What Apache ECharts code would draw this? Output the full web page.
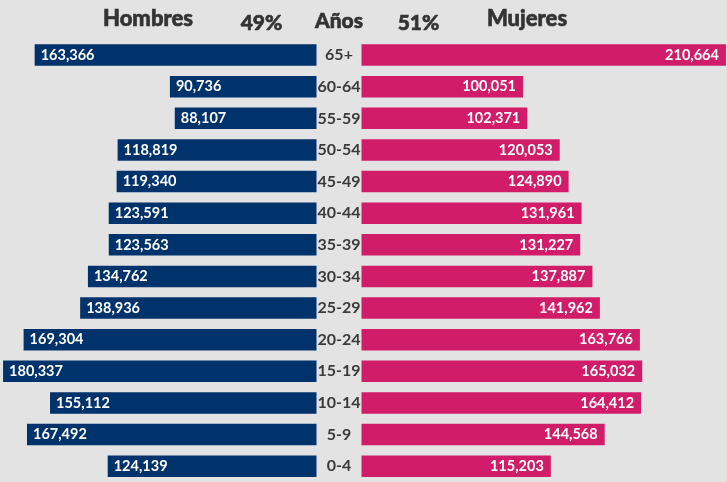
<!DOCTYPE html>
<html>
<head>
<meta charset="utf-8">
<script src="https://cdn.jsdelivr.net/npm/echarts@6/dist/echarts.min.js"></script>
<style>
html,body{margin:0;padding:0;background:#e3e3e3;}
#chart{width:727px;height:482px;}
</style>
</head>
<body>
<div id="chart"></div>
<script>
const categories = ['65+','60-64','55-59','50-54','45-49','40-44','35-39','30-34','25-29','20-24','15-19','10-14','5-9','0-4'];
const hombres = [163366,90736,88107,118819,119340,123591,123563,134762,138936,169304,180337,155112,167492,124139];
const mujeres = [210664,100051,102371,120053,124890,131961,131227,137887,141962,163766,165032,164412,144568,115203];
const headers = { men: 'Hombres', women: 'Mujeres', age: 'Años' };

const sum = a => a.reduce((s, v) => s + v, 0);
const total = sum(hombres) + sum(mujeres);
const pctMen = Math.round(sum(hombres) / total * 100) + '%';
const pctWomen = Math.round(sum(mujeres) / total * 100) + '%';

const NAVY = '#00336b';
const PINK = '#d11c6a';
const FONT = 'Lato';
const fmt = v => v.toLocaleString('en-US');

function head(text, x, y, size) {
  return {type: 'text', x: x, y: y, style: {text: text, x: 0, y: 0, align: 'center', verticalAlign: 'middle',
    font: '900 ' + size + 'px Lato', fill: '#333333', stroke: '#333333', lineWidth: 0.6}};
}

const chart = echarts.init(document.getElementById('chart'), null, {renderer: 'canvas'});
const gridTop = 39.3, gridH = 444.8;
chart.setOption({
  backgroundColor: '#e3e3e3',
  animation: false,
  grid: [
    {left: 0, width: 316.5, top: gridTop, height: gridH},
    {left: 361.5, width: 371, top: gridTop, height: gridH}
  ],
  xAxis: [
    {type: 'value', gridIndex: 0, inverse: true, min: 12000, max: 181979, show: false},
    {type: 'value', gridIndex: 1, min: 12000, max: 211247, show: false}
  ],
  yAxis: [
    {type: 'category', gridIndex: 0, data: categories, inverse: true, show: false},
    {type: 'category', gridIndex: 1, data: categories, inverse: true,
     axisLine: {show: false}, axisTick: {show: false},
     axisLabel: {align: 'center', margin: 22.5, color: '#3a3a3a', fontFamily: FONT, fontWeight: 'bold', fontSize: 16}}
  ],
  graphic: [
    head(headers.men, 148, 18.5, 22),
    head(pctMen, 261.5, 23.5, 21),
    head(headers.age, 339, 21, 21),
    head(pctWomen, 418.5, 23.5, 21),
    head(headers.women, 527, 18.5, 22)
  ],
  series: [
    {type: 'bar', xAxisIndex: 0, yAxisIndex: 0, data: hombres, barWidth: 21.5,
     itemStyle: {color: NAVY},
     label: {show: true, position: 'insideLeft', distance: 6, color: '#fff', fontFamily: FONT, fontWeight: 'bold', fontSize: 14.5, formatter: p => fmt(p.value)}},
    {type: 'bar', xAxisIndex: 1, yAxisIndex: 1, data: mujeres, barWidth: 21.5,
     itemStyle: {color: PINK},
     label: {show: true, position: 'insideRight', distance: 7, color: '#fff', fontFamily: FONT, fontWeight: 'bold', fontSize: 14.5, formatter: p => fmt(p.value)}}
  ]
});
</script>
</body>
</html>
